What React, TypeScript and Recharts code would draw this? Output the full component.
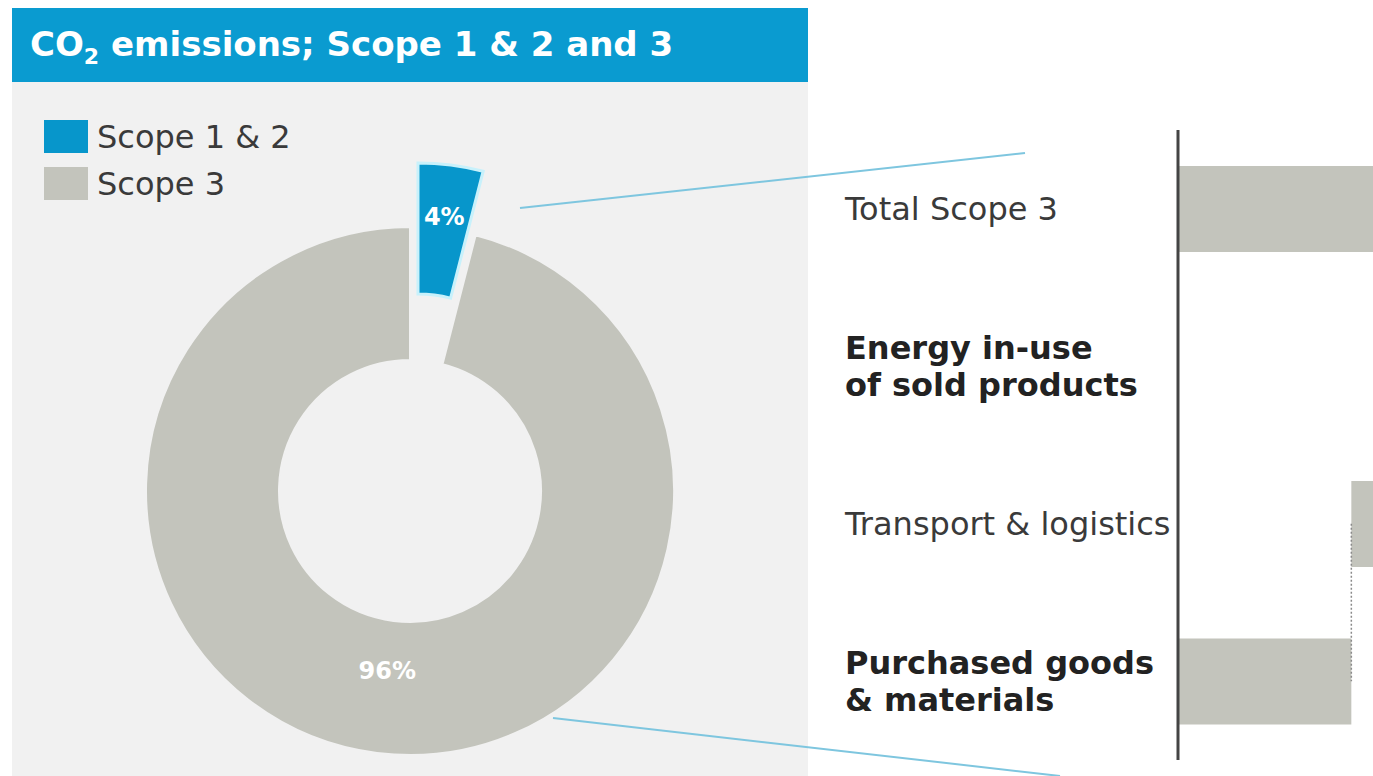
import { Bar, BarChart, Cell, Pie, PieChart, ReferenceLine, XAxis, YAxis } from 'recharts';

// donut: share of total CO2 emissions
const scopeNames = ['Scope 1 & 2', 'Scope 3'];
const scopeShares = [4, 96];
const scopeColors = ['#0796cb', '#c3c4bc'];

// waterfall of scope 3 (right side, cut off at the page edge)
const categories = ['Total Scope 3', 'Energy in-use\nof sold products', 'Transport & logistics', 'Purchased goods\n& materials'];
const boldCategories = ['Energy in-use\nof sold products', 'Purchased goods\n& materials'];
const purchased = 8;
const transport = 1.2;
const energyInUse = 90.8;
const totalScope3 = 100;

const pieData = scopeNames.map((name, i) => ({ name, value: scopeShares[i] }));

const starts = [0, purchased + transport, purchased, 0];
const amounts = [totalScope3, energyInUse, transport, purchased];
const barData = categories.map((name, i) => ({ name, base: starts[i], value: amounts[i] }));

const FONT = '"DejaVu Sans", Verdana, sans-serif';
const BAR_LEFT = 820;

function CategoryTick(props: any) {
    const { y, payload } = props;
    const lines: string[] = String(payload.value).split('\n');
    const bold = boldCategories.includes(payload.value);
    const lineH = 37;
    const first = y - ((lines.length - 1) * lineH) / 2;
    return (
        <text
            x={845 - BAR_LEFT}
            y={first}
            fill={bold ? '#222' : '#3a3a3a'}
            fontSize={32}
            fontWeight={bold ? 700 : 400}
            fontFamily={FONT}
            textAnchor="start"
        >
            {lines.map((l, i) => (
                <tspan key={i} x={845 - BAR_LEFT} dy={i === 0 ? 11 : lineH}>
                    {l}
                </tspan>
            ))}
        </text>
    );
}

// label placed at a fraction of the ring thickness, only for the drawn slice
function pieLabel(visibleIndex: number, frac: number) {
    return (p: any) => {
        if (p.index !== visibleIndex) return null;
        const r = p.innerRadius + (p.outerRadius - p.innerRadius) * frac;
        const a = (-p.midAngle * Math.PI) / 180;
        const x = p.cx + r * Math.cos(a);
        const y = p.cy + r * Math.sin(a);
        return (
            <text x={x} y={y} fill="#fff" fontSize={24} fontWeight={700} fontFamily={FONT} textAnchor="middle" dominantBaseline="central">
                {`${scopeShares[p.index]}%`}
            </text>
        );
    };
}

export default function App() {
    return (
        <div style={{ position: 'absolute', left: 0, top: 0, width: 1373, height: 776, overflow: 'hidden', background: '#fff', fontFamily: FONT }}>
            {/* panel + header */}
            <div style={{ position: 'absolute', left: 12, top: 82, width: 796, height: 694, background: '#f1f1f1' }} />
            <div
                style={{
                    position: 'absolute',
                    left: 12,
                    top: 8,
                    width: 796,
                    height: 74,
                    background: '#0a9bd0',
                    color: '#fff',
                    fontWeight: 700,
                    fontSize: 34,
                    lineHeight: '72px',
                    paddingLeft: 18,
                    boxSizing: 'border-box',
                    whiteSpace: 'nowrap',
                }}
            >
                CO<sub style={{ fontSize: 22, lineHeight: 0 }}>2</sub> emissions; Scope 1 &amp; 2 and 3
            </div>

            {/* legend */}
            <div style={{ position: 'absolute', left: 44, top: 113 }}>
                {scopeNames.map((name, i) => (
                    <div key={name} style={{ display: 'flex', alignItems: 'center', height: 47 }}>
                        <div style={{ width: 44, height: 33, background: scopeColors[i], marginRight: 9 }} />
                        <span style={{ fontSize: 32, color: '#3a3a3a' }}>{name}</span>
                    </div>
                ))}
            </div>

            <div style={{ position: 'absolute', left: 0, top: 0 }}>
                <PieChart width={810} height={776}>
                    <Pie
                        data={pieData}
                        dataKey="value"
                        cx={405}
                        cy={486}
                        innerRadius={131}
                        outerRadius={264}
                        startAngle={90}
                        endAngle={-270}
                        label={pieLabel(1, 0.38)}
                        labelLine={false}
                        isAnimationActive={false}
                    >
                        <Cell fill="transparent" stroke="none" />
                        <Cell fill={scopeColors[1]} stroke="#f1f1f1" strokeWidth={2} />
                    </Pie>
                    <Pie
                        data={pieData}
                        dataKey="value"
                        cx={413}
                        cy={420}
                        innerRadius={131}
                        outerRadius={262}
                        startAngle={90}
                        endAngle={-270}
                        label={pieLabel(0, 0.6)}
                        labelLine={false}
                        isAnimationActive={false}
                    >
                        <Cell fill={scopeColors[0]} stroke="#c8f1fb" strokeWidth={3} />
                        <Cell fill="transparent" stroke="none" />
                    </Pie>
                </PieChart>
            </div>

            <div style={{ position: 'absolute', left: BAR_LEFT, top: 0 }}>
                <BarChart
                    width={1373 - BAR_LEFT}
                    height={776}
                    data={barData}
                    layout="vertical"
                    margin={{ top: 130, right: 0, bottom: 16, left: 0 }}
                >
                    <XAxis type="number" domain={[0, 9]} allowDataOverflow hide />
                    <YAxis
                        type="category"
                        dataKey="name"
                        width={358}
                        axisLine={{ stroke: '#444', strokeWidth: 3 }}
                        tickLine={false}
                        tick={<CategoryTick />}
                        interval={0}
                    />
                    <Bar dataKey="base" stackId="w" fill="transparent" barSize={86} isAnimationActive={false} />
                    <Bar dataKey="value" stackId="w" fill="#c3c4bc" barSize={86} isAnimationActive={false} />
                    <ReferenceLine
                        segment={[
                            { x: purchased, y: categories[2] },
                            { x: purchased, y: categories[3] },
                        ]}
                        stroke="#8a8a8a"
                        strokeDasharray="2 2"
                        strokeWidth={1.5}
                    />
                </BarChart>
            </div>

            {/* connector lines from donut to breakdown */}
            <svg width={1373} height={776} style={{ position: 'absolute', left: 0, top: 0, pointerEvents: 'none' }}>
                <line x1={520} y1={208} x2={1025} y2={153} stroke="#7ec6df" strokeWidth={2} />
                <line x1={553} y1={718} x2={1060} y2={776} stroke="#7ec6df" strokeWidth={2} />
            </svg>
        </div>
    );
}
